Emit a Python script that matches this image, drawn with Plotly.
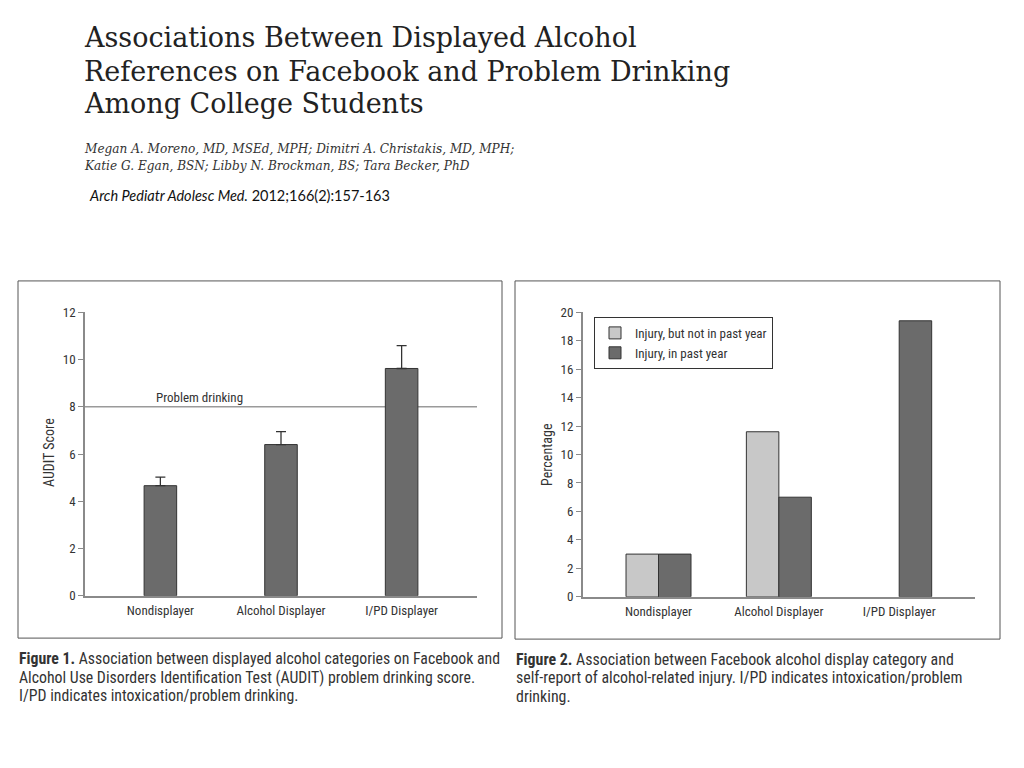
import plotly.graph_objects as go

# ---------------- data ----------------
categories = ["Nondisplayer", "Alcohol Displayer", "I/PD Displayer"]
audit_mean = [4.66, 6.40, 9.62]
audit_upper = [5.02, 6.95, 10.59]
problem_drinking_threshold = 8

injury_not_past_year = [3.0, 11.6, 0.0]
injury_past_year = [3.0, 7.0, 19.4]

series_names = ["Injury, but not in past year", "Injury, in past year"]

audit_ticks = [0, 2, 4, 6, 8, 10, 12]
pct_ticks = [0, 2, 4, 6, 8, 10, 12, 14, 16, 18, 20]

title_lines = [
    "Associations Between Displayed Alcohol",
    "References on Facebook and Problem Drinking",
    "Among College Students",
]
author_lines = [
    "Megan A. Moreno, MD, MSEd, MPH; Dimitri A. Christakis, MD, MPH;",
    "Katie G. Egan, BSN; Libby N. Brockman, BS; Tara Becker, PhD",
]
citation = "<i>Arch Pediatr Adolesc Med.</i> 2012;166(2):157-163"
caption1_lines = [
    "<b>Figure 1.</b> Association between displayed alcohol categories on Facebook and",
    "Alcohol Use Disorders Identification Test (AUDIT) problem drinking score.",
    "I/PD indicates intoxication/problem drinking.",
]
caption2_lines = [
    "<b>Figure 2.</b> Association between Facebook alcohol display category and",
    "self-report of alcohol-related injury. I/PD indicates intoxication/problem",
    "drinking.",
]

# ---------------- styling ----------------
W, H = 1024, 768
Y_OFF, Y_SCALE = 7.2, 0.98   # vertical mapping observed between page and captured picture
NARROW = "Liberation Sans Narrow, Arial Narrow, Roboto Condensed, Liberation Sans, Arial, sans-serif"
DARK = "#6b6b6b"
LIGHT = "#c8c8c8"
OUTLINE = "#333333"
AXIS = "#8a8a8a"
TXT = "#333333"


def px(x):
    return x / W


def py(y):
    return 1 - ((y - Y_OFF) / Y_SCALE) / H


err_plus = [u - m for u, m in zip(audit_upper, audit_mean)]
err_minus = [0 for _ in audit_mean]

fig = go.Figure()

fig.add_trace(go.Bar(
    x=categories, y=audit_mean, width=0.27,
    marker=dict(color=DARK, line=dict(color=OUTLINE, width=1)),
    error_y=dict(type="data", symmetric=False, array=err_plus, arrayminus=err_minus,
                 color=OUTLINE, thickness=1.3, width=5),
    showlegend=False, xaxis="x", yaxis="y",
))

fig.add_trace(go.Bar(
    x=categories, y=injury_not_past_year, name=series_names[0],
    marker=dict(color=LIGHT, line=dict(color=OUTLINE, width=[1, 1, 0])),
    xaxis="x2", yaxis="y2",
))
fig.add_trace(go.Bar(
    x=categories, y=injury_past_year, name=series_names[1],
    marker=dict(color=DARK, line=dict(color=OUTLINE, width=1)),
    xaxis="x2", yaxis="y2",
))

axis_common_x = dict(type="category", showline=True, linecolor=AXIS, linewidth=1.5,
                     ticks="", showgrid=False, zeroline=False,
                     tickfont=dict(family=NARROW, size=13, color=TXT), ticklabelstandoff=2)
axis_common_y = dict(showline=True, linecolor=AXIS, linewidth=1.5, ticks="outside",
                     ticklen=5, tickcolor=AXIS, showgrid=False, zeroline=False,
                     tickfont=dict(family=NARROW, size=13, color=TXT))

fig.update_layout(
    width=W, height=H,
    margin=dict(l=0, r=0, t=0, b=0),
    paper_bgcolor="white", plot_bgcolor="white",
    barmode="group", bargap=0.46, bargroupgap=0,
    xaxis=dict(domain=[px(85), px(477)], range=[-0.625, 2.625], anchor="y", **axis_common_x),
    yaxis=dict(domain=[py(595.7), py(312.3)], range=[0, 12], tickvals=audit_ticks,
               anchor="x", **axis_common_y),
    xaxis2=dict(domain=[px(582.7), px(975)], range=[-0.63, 2.63], anchor="y2", **axis_common_x),
    yaxis2=dict(domain=[py(596.7), py(312.3)], range=[0, 20], tickvals=pct_ticks,
                anchor="x2", **axis_common_y),
    legend=dict(x=px(594), y=py(317), xanchor="left", yanchor="top",
                bordercolor=OUTLINE, borderwidth=1, bgcolor="white",
                font=dict(family=NARROW, size=13, color=TXT),
                tracegroupgap=0, itemwidth=30),
    showlegend=True,
)

shapes = [
    dict(type="line", xref="x domain", yref="y", x0=0, x1=1,
         y0=problem_drinking_threshold, y1=problem_drinking_threshold,
         line=dict(color="#9a9a9a", width=1.3), layer="below"),
    dict(type="rect", xref="paper", yref="paper", x0=px(18), x1=px(502), y0=py(638), y1=py(281),
         line=dict(color="#555555", width=1)),
    dict(type="rect", xref="paper", yref="paper", x0=px(515), x1=px(1000), y0=py(639), y1=py(281),
         line=dict(color="#555555", width=1)),
]
fig.update_layout(shapes=shapes)

ann = []


def add_lines(lines, x, centers, font):
    for line, c in zip(lines, centers):
        ann.append(dict(text=line, xref="paper", yref="paper", x=px(x), y=py(c),
                        xanchor="left", yanchor="middle", align="left", showarrow=False,
                        font=font))


add_lines(title_lines, 82, [38, 72, 104],
          dict(family="DejaVu Serif, serif", size=27, color="#222222"))
add_lines(["<i>" + a + "</i>" for a in author_lines], 82, [149, 166],
          dict(family="DejaVu Serif, serif", size=12.1, color="#333333"))
add_lines([citation], 87, [196],
          dict(family="Lato, Carlito, sans-serif", size=14.5, color="#111111"))
add_lines(caption1_lines, 17, [658, 677, 695],
          dict(family=NARROW, size=15.8, color="#333333"))
add_lines(caption2_lines, 514, [659, 677, 696],
          dict(family=NARROW, size=15.9, color="#333333"))

ann.append(dict(text="Problem drinking", xref="paper", yref="y", x=px(154), y=problem_drinking_threshold,
                xanchor="left", yanchor="bottom", showarrow=False,
                font=dict(family=NARROW, size=13, color=TXT)))
ann.append(dict(text="AUDIT Score", xref="paper", yref="paper", x=px(49), y=py(453),
                textangle=-90, showarrow=False, xanchor="center", yanchor="middle",
                font=dict(family=NARROW, size=14, color=TXT)))
ann.append(dict(text="Percentage", xref="paper", yref="paper", x=px(547), y=py(455),
                textangle=-90, showarrow=False, xanchor="center", yanchor="middle",
                font=dict(family=NARROW, size=14, color=TXT)))
fig.update_layout(annotations=ann)

fig.write_html(
    "out.html",
    config={"displayModeBar": False},
    post_script="document.body.style.margin='0';document.body.style.overflow='hidden';",
)
